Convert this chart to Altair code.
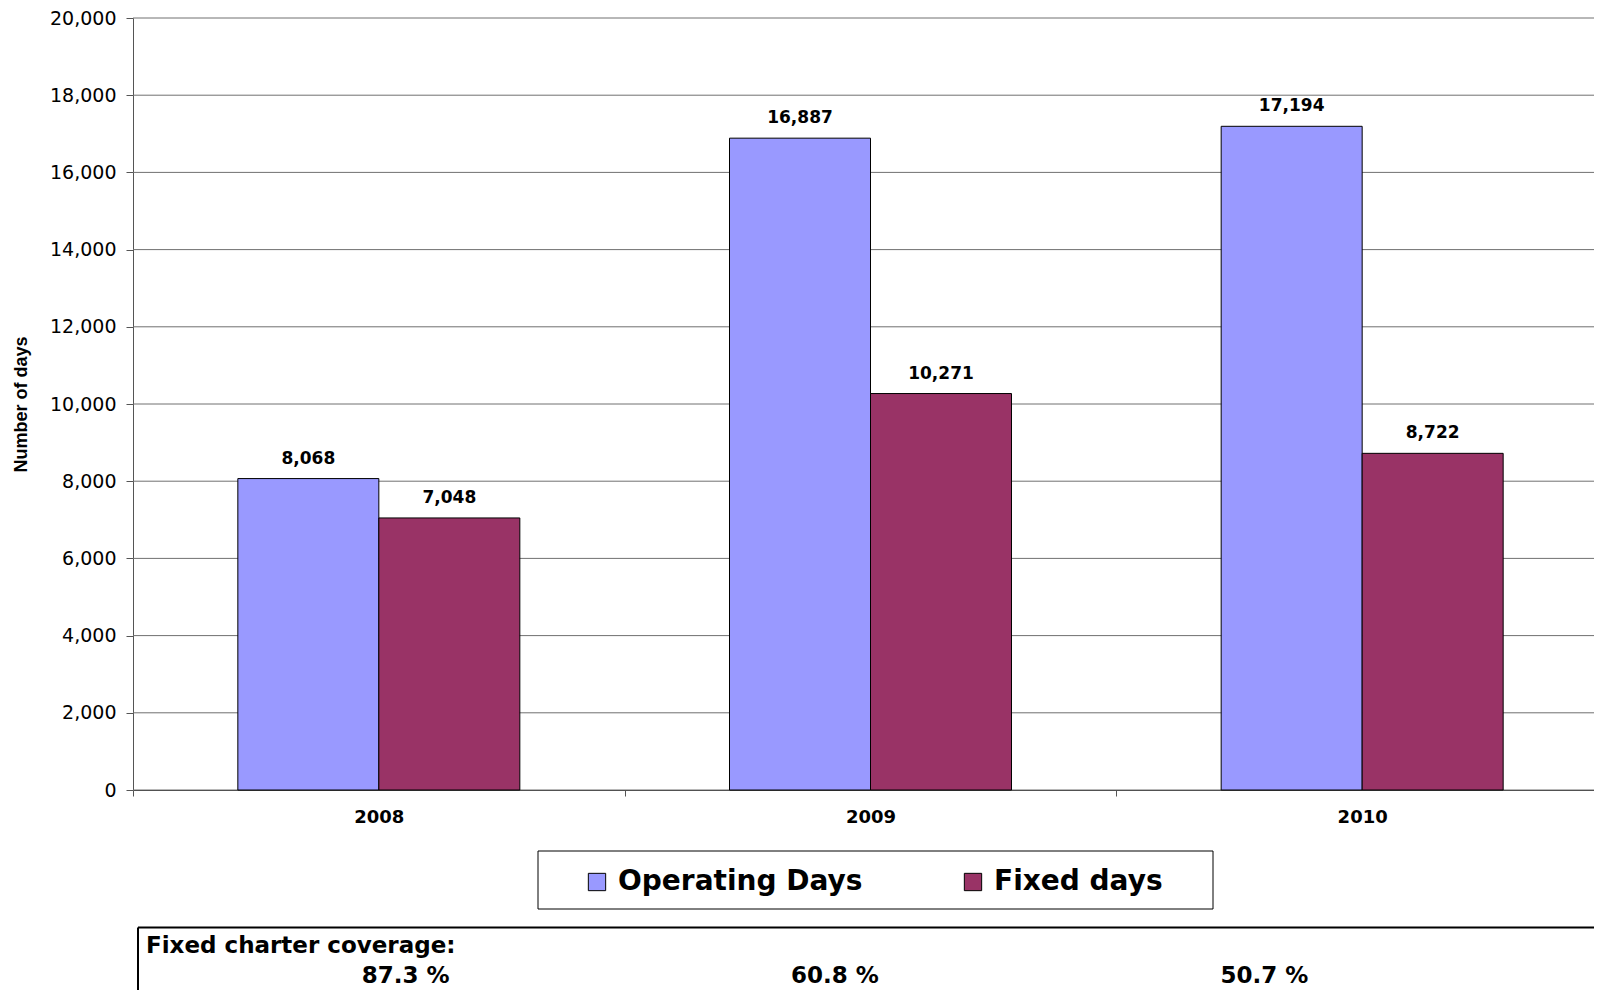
import altair as alt
import pandas as pd

years = ["2008", "2009", "2010"]
operating_days = [8068, 16887, 17194]
fixed_days = [7048, 10271, 8722]
series_names = ["Operating Days", "Fixed days"]
series_colors = ["#9999FF", "#993366"]
coverage_labels = ["87.3 %", "60.8 %", "50.7 %"]
table_title = ["Fixed charter coverage:"]
y_ticks = list(range(0, 20001, 2000))

bars_df = pd.DataFrame({
    "year": years * 2,
    "series": [series_names[0]] * 3 + [series_names[1]] * 3,
    "days": operating_days + fixed_days,
})
grid_df = pd.DataFrame({"days": y_ticks})
cov_df = pd.DataFrame({"year": years, "label": coverage_labels})
title_df = pd.DataFrame({"t": table_title})
one = pd.DataFrame({"a": [0]})

FONT = "DejaVu Sans"
W, H = 1461, 772
X_RANGE = [0, 1475]

x_scale = alt.Scale(range=X_RANGE, paddingInner=0, paddingOuter=0)
x_axis = alt.Axis(title=None, labelAngle=0, labelFont=FONT, labelFontWeight="bold",
                  labelFontSize=18, labelColor="black", tickBand="extent", tickSize=6,
                  tickColor="#555", domainColor="#333", labelPadding=12, grid=False)
xoff = alt.XOffset("series:N", sort=series_names,
                   scale=alt.Scale(paddingInner=0, paddingOuter=0.7435))
y_scale = alt.Scale(domain=[0, 20000], nice=False)
y_axis = alt.Axis(values=y_ticks, format=",.0f", title="Number of days",
                  titleFont="Liberation Sans", titleFontWeight="bold", titleFontSize=18,
                  titleColor="black", titlePadding=19, labelFont=FONT, labelFontSize=19,
                  labelColor="black", labelPadding=10, tickSize=7, tickColor="#555",
                  domainColor="#555", grid=False)

grid = alt.Chart(grid_df).mark_rule(color="#707070", strokeWidth=1).encode(
    y=alt.Y("days:Q", scale=y_scale, axis=y_axis),
    x=alt.value(0), x2=alt.value(W),
)

bars = alt.Chart(bars_df).mark_bar(stroke="black", strokeWidth=1).encode(
    x=alt.X("year:N", sort=years, scale=x_scale, axis=x_axis),
    xOffset=xoff,
    y=alt.Y("days:Q", scale=y_scale, axis=y_axis),
    color=alt.Color("series:N", sort=series_names,
                    scale=alt.Scale(domain=series_names, range=series_colors),
                    legend=alt.Legend(title=None, orient="none", legendX=450, legendY=850,
                                      direction="horizontal", symbolType="square", symbolSize=300,
                                      symbolStrokeColor="black", symbolStrokeWidth=1,
                                      labelFont=FONT, labelFontWeight="bold", labelFontSize=28,
                                      labelColor="black", labelOffset=7, columnPadding=96,
                                      labelLimit=500, padding=0)),
)

labels = alt.Chart(bars_df).mark_text(baseline="bottom", dy=-11, font=FONT, fontWeight="bold",
                                      fontSize=17, color="black").encode(
    x=alt.X("year:N", sort=years, scale=x_scale, axis=x_axis),
    xOffset=xoff,
    y=alt.Y("days:Q", scale=y_scale, axis=y_axis),
    text=alt.Text("days:Q", format=","),
)

legend_box = alt.Chart(one).mark_rect(fill="transparent", stroke="black", strokeWidth=1).encode(
    x=alt.value(405), x2=alt.value(1080), y=alt.value(833), y2=alt.value(891))

table_top = alt.Chart(one).mark_rule(color="black", strokeWidth=2).encode(
    x=alt.value(5), x2=alt.value(W + 10), y=alt.value(909.5))
table_left = alt.Chart(one).mark_rule(color="black", strokeWidth=2).encode(
    x=alt.value(5), y=alt.value(909.5), y2=alt.value(1010))

table_text = alt.Chart(title_df).mark_text(align="left", baseline="middle", font=FONT,
                                           fontWeight="bold", fontSize=23, color="black").encode(
    x=alt.value(13), y=alt.value(928), text="t:N")

cov_text = alt.Chart(cov_df).mark_text(align="center", baseline="middle", font=FONT,
                                       fontWeight="bold", fontSize=23, color="black").encode(
    x=alt.X("year:N", sort=years,
            scale=alt.Scale(range=[58, 1346], paddingInner=0, paddingOuter=0), axis=None),
    y=alt.value(957.5),
    text="label:N",
)

main = alt.layer(grid, bars, labels)
chart = alt.layer(main, cov_text, legend_box, table_top, table_left, table_text).resolve_scale(
    x="independent"
).properties(
    width=W, height=H,
    autosize=alt.AutoSizeParams(type="none"),
    padding={"left": 125, "top": 10, "right": 0, "bottom": 200},
).configure_view(stroke=None)

chart.save("out.html", embed_options={"renderer": "svg", "actions": False})
